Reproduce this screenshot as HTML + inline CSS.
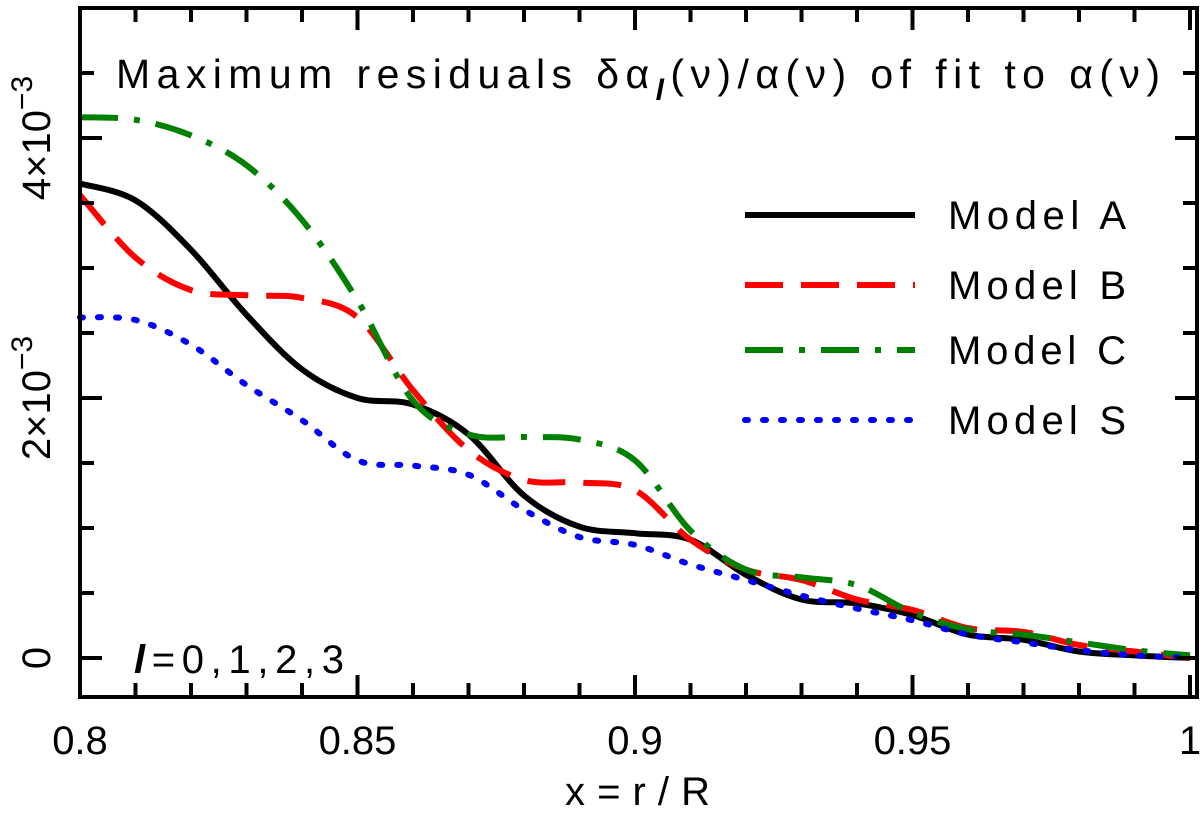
<!DOCTYPE html>
<html><head><meta charset="utf-8"><style>
html,body{margin:0;padding:0;background:#fff;}
svg{display:block;font-family:"Liberation Sans","DejaVu Sans",sans-serif;}
</style></head><body>
<svg id="chart" width="1200" height="815" viewBox="0 0 1200 815">
<g id="marks"></g>
<g id="axes"></g>
<text x="116" y="88" font-size="41" textLength="1044" lengthAdjust="spacing">Maximum residuals δα<tspan font-style="italic" font-weight="bold" font-size="30" dy="12">l</tspan><tspan dy="-12">(ν)/α(ν) of fit to α(ν)</tspan></text>
<text x="134" y="673" font-size="40" textLength="210" lengthAdjust="spacing"><tspan font-style="italic" font-weight="bold">l</tspan>=0,1,2,3</text>
<text x="565" y="805" font-size="40" textLength="145" lengthAdjust="spacing">x=r/R</text>
<g id="legend"></g>
</svg>
<script>
const xVals=[0.80,0.81,0.82,0.83,0.84,0.85,0.86,0.87,0.88,0.89,0.90,0.91,0.92,0.93,0.94,0.95,0.96,0.97,0.98,0.99,1.00];
const modelA=[3.65,3.52,3.14,2.64,2.22,2.00,1.95,1.72,1.25,1.01,0.96,0.91,0.64,0.45,0.42,0.33,0.18,0.14,0.05,0.02,0.0];
const modelB=[3.56,3.08,2.83,2.79,2.77,2.62,2.06,1.60,1.37,1.35,1.29,0.91,0.68,0.60,0.45,0.37,0.23,0.20,0.10,0.05,0.0];
const modelC=[4.16,4.14,4.02,3.79,3.37,2.75,1.98,1.72,1.70,1.68,1.52,0.98,0.68,0.62,0.56,0.35,0.22,0.18,0.12,0.06,0.02];
const modelS=[2.62,2.60,2.41,2.10,1.83,1.52,1.48,1.41,1.14,0.93,0.87,0.72,0.60,0.48,0.38,0.29,0.18,0.12,0.06,0.02,0.0];
const xTickLabels=["0.8","0.85","0.9","0.95","1"];
const xTickValues=[0.8,0.85,0.9,0.95,1.0];
const yTickValues=[0,2,4];
const seriesNames=["Model A","Model B","Model C","Model S"];

const NS="http://www.w3.org/2000/svg";
const X0=80,X1=1190,YB=658;
function xs(v){return X0+(v-0.8)/0.2*(X1-X0);}
function ys(v){return YB-v*130;}
function mk(tag,attrs,parent){const e=document.createElementNS(NS,tag);for(const k in attrs)e.setAttribute(k,attrs[k]);parent.appendChild(e);return e;}
function smoothPath(vals){
  const p=vals.map((v,i)=>[xs(xVals[i]),ys(v)]);
  let d="M"+p[0][0]+","+p[0][1];
  for(let i=0;i<p.length-1;i++){
    const a=p[Math.max(0,i-1)],b=p[i],c=p[i+1],e=p[Math.min(p.length-1,i+2)];
    const c1=[b[0]+(c[0]-a[0])/6,b[1]+(c[1]-a[1])/6];
    const c2=[c[0]-(e[0]-b[0])/6,c[1]-(e[1]-b[1])/6];
    d+=" C"+c1[0]+","+c1[1]+" "+c2[0]+","+c2[1]+" "+c[0]+","+c[1];
  }
  return d;
}
const styles=[
 {c:"#000",dash:""},
 {c:"#ff0000",dash:"38,18"},
 {c:"#008000",dash:"38,16,6,16"},
 {c:"#0000ff",dash:"3,15"}];
const allSeries=[modelA,modelB,modelC,modelS];
const marks=document.getElementById("marks");
const ids=["series-model-a","series-model-b","series-model-c","series-model-s"];
allSeries.forEach((s,i)=>{
  const p=mk("path",{d:smoothPath(s),fill:"none",stroke:styles[i].c,"stroke-width":6,"stroke-dasharray":styles[i].dash,"stroke-linecap":i==3?"round":"butt"},marks);
  
  
});
const axes=document.getElementById("axes");
const fr=mk("rect",{x:X0,y:8,width:1197-X0,height:697-8,fill:"none",stroke:"#000","stroke-width":4},axes);


for(let k=0;k<=20;k++){
  const v=0.8+k*0.01, x=xs(v), L=(k%5==0)?22:14;
  mk("line",{x1:x,y1:697,x2:x,y2:697-L,stroke:"#000","stroke-width":4},axes);
  mk("line",{x1:x,y1:8,x2:x,y2:8+L,stroke:"#000","stroke-width":4},axes);
}
xTickValues.forEach((v,i)=>{
  const t=mk("text",{x:xs(v),y:754,"font-size":40,"text-anchor":"middle"},axes);
  t.textContent=xTickLabels[i];
  
  
});
for(let k=0;k<=10;k++){
  const v=k*0.5,y=ys(v),L=(k%4==0)?22:14;
  mk("line",{x1:X0,y1:y,x2:X0+L,y2:y,stroke:"#000","stroke-width":4},axes);
  mk("line",{x1:1197,y1:y,x2:1197-L,y2:y,stroke:"#000","stroke-width":4},axes);
}
yTickValues.forEach(v=>{
  const y=ys(v);
  const t=mk("text",{transform:"translate(50,"+y+") rotate(-90)","font-size":40,"text-anchor":"middle"},axes);
  if(v===0){t.textContent="0";}
  else{t.textContent=v+"×10";const s=mk("tspan",{dy:-18,"font-size":30},t);s.textContent="−3";}
  
  
});
const lg=document.getElementById("legend");
const ly=[215,285,350,420];
seriesNames.forEach((n,i)=>{
  const g=mk("g",{},lg);
  
  
  mk("line",{x1:745,y1:ly[i],x2:915,y2:ly[i],stroke:styles[i].c,"stroke-width":6,"stroke-dasharray":styles[i].dash,"stroke-linecap":i==3?"round":"butt"},g);
  const t=mk("text",{x:948,y:ly[i]+14,"font-size":40,textLength:178,lengthAdjust:"spacing"},g);
  t.textContent=n;
});
</script>
</body></html>
